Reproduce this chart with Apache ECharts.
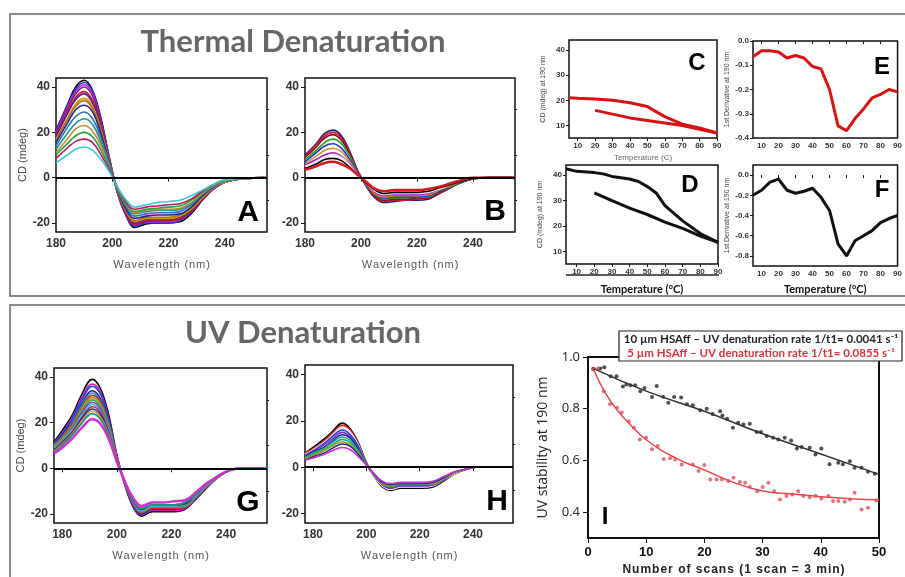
<!DOCTYPE html>
<html>
<head>
<meta charset="utf-8">
<script src="https://cdn.jsdelivr.net/npm/echarts@6/dist/echarts.min.js"></script>
<style>
  html, body { margin: 0; padding: 0; background: #fff; }
  #chart { width: 905px; height: 577px; }
</style>
</head>
<body>
<div id="chart"></div>
<script>
// wavelength grids (nm)
const wlAB = [180, 184, 187, 190, 193, 196, 199, 202, 205, 208, 212, 216, 220, 224, 228, 232, 236, 240, 246, 255]
const wlGH = [177, 180, 184, 187, 191, 194, 197, 200, 203, 206, 209, 213, 217, 221, 225, 229, 233, 237, 241, 246, 255]

// A: thermal spectra, 15 scans
const specA = [
  [21, 32, 40, 43, 38.5, 26, 8.5, -7.5, -17, -22, -20.5, -20, -20, -19.5, -16, -10, -5, -2, -0.5, 0],
  [20.5, 31.5, 39, 42, 38, 25, 8.5, -7, -17, -21.5, -20, -20, -20, -19, -15.5, -9.5, -5, -2, -0.5, 0],
  [20, 31, 38, 41, 37, 24.5, 8, -7, -16.5, -21, -19.5, -19.5, -19.5, -18.5, -15, -9.5, -5, -2, -0.5, 0],
  [19.5, 30, 37, 40, 36, 24, 8, -7, -16.5, -21, -19.5, -19, -19, -18.5, -15, -9.5, -5, -2, -0.5, 0],
  [18.5, 28.5, 35.5, 38, 34, 23, 7.5, -7, -16, -20.5, -19, -19, -19, -18, -15, -9, -4.5, -2, -0.5, 0],
  [18, 28, 34.5, 37, 33, 22, 7.5, -6.5, -15.5, -20, -18.5, -18.5, -18.5, -17.5, -14.5, -9, -4.5, -2, -0.5, 0],
  [17, 26, 32.5, 35, 31.5, 21, 7, -6.5, -15, -19.5, -18, -18, -18, -17, -14, -9, -4.5, -2, -0.5, 0],
  [16.5, 25.5, 31.5, 34, 30.5, 20.5, 7, -6.5, -15, -19, -17.5, -17.5, -17.5, -16.5, -13.5, -8.5, -4.5, -1.5, -0.5, 0],
  [15.5, 24, 30, 32, 29, 19, 6.5, -6, -14, -18, -17, -16.5, -16.5, -16, -13, -8, -4, -1.5, -0.5, 0],
  [14, 22, 27, 29, 26, 17.5, 6, -5.5, -13, -17, -16, -15.5, -15.5, -15, -12, -7.5, -4, -1.5, -0.5, 0],
  [12.5, 19.5, 24, 26, 23.5, 15.5, 5, -5.5, -12.5, -16, -15, -14.5, -14.5, -14, -11.5, -7, -3.5, -1.5, -0.5, 0],
  [11, 17, 21.5, 23, 20.5, 14, 4.5, -5, -12, -15.5, -14.5, -14, -14, -13.5, -11, -7, -3.5, -1.5, -0.5, 0],
  [10, 15, 18.5, 20, 18, 12, 4, -5, -11.5, -15, -14, -13.5, -13, -12.5, -10, -6.5, -3.5, -1.5, -0.5, 0],
  [8.5, 13, 16, 17, 15.5, 10, 3.5, -4.5, -11, -14, -13, -12.5, -12, -11.5, -9.5, -6, -3, -1, -0.5, 0],
  [6.5, 10, 12.5, 13.5, 12, 8, 2.5, -4.5, -10, -13, -12, -11, -10.5, -10, -8, -5.5, -3, -1, -0.5, 0]
]
const colorsA = ['#000000', '#1f3fd0', '#d020c0', '#7a1fa0', '#d01818', '#5a1a8a', '#c8a000', '#c06820',
  '#1a2a80', '#3070b0', '#20909a', '#c09030', '#30a040', '#b0206a', '#40c8d8']

// B: after heating, 10 scans
const specB = [
  [10, 15, 19.5, 21, 18.5, 11.5, 2.5, -4, -9, -11, -10.5, -10, -10, -9.5, -7, -4.5, -2, -0.5, 0, 0],
  [9.5, 14.5, 18.5, 20, 17.5, 11, 2.5, -3.5, -8.5, -10.5, -10, -10, -9.5, -9, -7, -4, -2, -0.5, 0, 0],
  [9, 13.5, 17.5, 19, 16.5, 10.5, 2.5, -3.5, -8, -10, -9.5, -9.5, -9, -9, -6.5, -4, -2, -0.5, 0, 0],
  [8, 12, 15.5, 17, 15, 9.5, 2, -3.5, -7.5, -9.5, -9, -9, -8.5, -8.5, -6, -4, -2, -0.5, 0, 0],
  [7, 11, 14, 15, 13, 8, 2, -3, -7, -9, -8.5, -8.5, -8.5, -8, -6, -3.5, -2, -0.5, 0, 0],
  [6, 9.5, 12, 13, 11.5, 7, 1.5, -3, -7, -8.5, -8, -8, -8, -7.5, -5.5, -3.5, -1.5, -0.5, 0, 0],
  [5.5, 8, 10, 11, 9.5, 6, 1.5, -3, -6.5, -8, -7.5, -7.5, -7.5, -7, -5, -3, -1.5, -0.5, 0, 0],
  [5, 7, 9, 10, 9, 5.5, 1, -2.5, -6, -7.5, -7, -7, -7, -6.5, -5, -3, -1.5, -0.5, 0, 0],
  [4, 6, 8, 8.5, 7.5, 4.5, 1, -2.5, -5.5, -7, -6.5, -6.5, -6.5, -6, -4.5, -3, -1.5, -0.5, 0, 0],
  [3.5, 5, 6.5, 7, 6, 4, 1, -2, -5, -6, -5.5, -5.5, -5.5, -5, -4, -2.5, -1, 0, 0, 0]
]
const colorsB = ['#1a1a80', '#c8183c', '#8a1010', '#2a9a2a', '#1a3ac0', '#e08a30', '#a020c0', '#ece4f4', '#000000', '#d81818']

// G: UV exposure spectra, 10 uM
const specG = [
  [11.5, 16.5, 24, 32, 39, 35, 23.5, 6, -7.5, -17, -21, -19, -19, -19, -18, -13.5, -8.5, -4, -1, 0, 0],
  [11, 15.5, 23, 30.5, 37, 33.5, 22, 5.5, -7, -16.5, -20.5, -18.5, -18.5, -18.5, -17.5, -13.5, -8, -4, -1, 0, 0],
  [11, 15, 22.5, 29.5, 36, 32.5, 21.5, 5.5, -7, -16, -20, -18, -18, -18, -17, -13, -8, -4, -1, 0, 0],
  [10, 14.5, 21, 28, 34, 30.5, 20.5, 5, -7, -16, -20, -18, -18, -18, -17, -13, -8, -4, -1, 0, 0],
  [10, 14, 20.5, 27, 33, 29.5, 20, 5, -7, -15.5, -19.5, -17.5, -17.5, -17.5, -17, -12.5, -8, -4, -1, 0, 0],
  [9.5, 13.5, 20, 26, 32, 29, 19, 5, -7, -15.5, -19.5, -17.5, -17.5, -17.5, -17, -12.5, -8, -4, -1, 0, 0],
  [9.5, 13, 19, 25.5, 31, 28, 18.5, 4.5, -6.5, -15, -19, -17, -17, -17, -16.5, -12.5, -7.5, -4, -1, 0, 0],
  [9, 12.5, 18.5, 24.5, 30, 27, 18, 4.5, -6.5, -15, -19, -17, -17, -17, -16.5, -12.5, -7.5, -4, -1, 0, 0],
  [8.5, 12, 18, 24, 29, 26, 17.5, 4.5, -6.5, -15, -18.5, -16.5, -16.5, -16.5, -16, -12, -7.5, -3.5, -1, 0, 0],
  [8.5, 12, 17.5, 23, 28, 25, 17, 4, -6.5, -15, -18.5, -16.5, -16.5, -16.5, -16, -12, -7.5, -3.5, -1, 0, 0],
  [8, 11.5, 16.5, 22, 27, 24.5, 16, 4, -6.5, -14.5, -18, -16, -16, -16, -15.5, -11.5, -7, -3.5, -1, 0, 0],
  [8, 11, 16, 21.5, 26, 23.5, 15.5, 4, -6.5, -14.5, -18, -16, -16, -16, -15.5, -11.5, -7, -3.5, -1, 0, 0],
  [7.5, 10.5, 15.5, 20.5, 25, 22.5, 15, 4, -6, -14, -17.5, -16, -16, -16, -15, -11.5, -7, -3.5, -1, 0, 0],
  [7, 10, 15, 19.5, 24, 21.5, 14.5, 3.5, -6, -14, -17.5, -16, -16, -16, -15, -11.5, -7, -3.5, -1, 0, 0],
  [6.5, 9, 13.5, 17.5, 21.5, 19.5, 13, 3, -6, -13, -16.5, -15, -15, -14.5, -14, -10.5, -6.5, -3.5, -1, 0, 0]
]
const colorsG = ['#000000', '#d020c0', '#2040e0', '#1a2a90', '#20a0a0', '#e02040', '#a0a020', '#30b050',
  '#8030c0', '#40c0d0', '#c02060', '#203080', '#e09030', '#109080', '#d030d0']

// H: UV exposure spectra, 5 uM
const specH = [
  [6, 8.5, 12, 15, 19, 16.5, 10.5, 2, -4, -8.5, -10, -9, -9, -9, -8.5, -6, -3, -1, 0, 0, 0],
  [6, 8, 11, 14.5, 18, 16, 10, 2, -4, -8, -9.5, -8.5, -8.5, -8.5, -8, -5.5, -3, -1, 0, 0, 0],
  [5.5, 7.5, 10.5, 13.5, 17, 15, 9.5, 1.5, -4, -8, -9.5, -8.5, -8.5, -8.5, -8, -5.5, -3, -1, 0, 0, 0],
  [5, 7, 10, 13, 16, 14, 9, 1.5, -3.5, -7.5, -9, -8, -8, -8, -7.5, -5.5, -2.5, -1, 0, 0, 0],
  [5, 7, 9.5, 12, 15, 13, 8, 1.5, -3.5, -7.5, -9, -8, -8, -8, -7.5, -5.5, -2.5, -1, 0, 0, 0],
  [4.5, 6.5, 8.5, 11, 14, 12.5, 7.5, 1.5, -3.5, -7, -8.5, -7.5, -7.5, -7.5, -7, -5, -2.5, -1, 0, 0, 0],
  [4, 6, 8, 10.5, 13, 11.5, 7, 1.5, -3.5, -7, -8.5, -7.5, -7.5, -7.5, -7, -5, -2.5, -1, 0, 0, 0],
  [4, 5.5, 7.5, 9.5, 12, 10.5, 6.5, 1, -3, -7, -8, -7, -7, -7, -7, -5, -2.5, -1, 0, 0, 0],
  [3.5, 5, 7, 9, 11, 9.5, 6, 1, -3, -7, -8, -7, -7, -7, -7, -5, -2.5, -1, 0, 0, 0],
  [3, 4.5, 6, 8, 10, 9, 5.5, 1, -3, -6.5, -7.5, -7, -7, -7, -6.5, -4.5, -2, -1, 0, 0, 0],
  [3, 4, 5.5, 7, 8.5, 7.5, 4.5, 1, -3, -6, -7, -6.5, -6.5, -6.5, -6, -4, -2, -1, 0, 0, 0]
]
const colorsH = ['#000000', '#d02020', '#f0e8f8', '#2040d0', '#8030c0', '#1a2a90', '#20a0a0', '#30b050', '#a0a020', '#203080', '#d030d0']

// C / D: signal at 190 nm vs temperature (heating, then cooling)
const tempHeatC = [5, 10, 20, 30, 40, 50, 55, 60, 70, 80, 90]
const cdHeatC = [21, 20.8, 20.5, 20, 19, 17.5, 15.5, 13.5, 10.5, 9, 7]
const tempCoolC = [20, 30, 40, 50, 60, 70, 80, 90]
const cdCoolC = [16, 14.5, 13, 12, 11, 10, 8.5, 7]

const tempHeatD = [4, 10, 20, 25, 30, 40, 45, 50, 55, 60, 70, 80, 90]
const cdHeatD = [42.5, 41.5, 41, 40.5, 39.5, 38.5, 37.5, 35.5, 33, 28, 22, 17, 13.5]
const tempCoolD = [20, 30, 40, 50, 60, 70, 80, 90]
const cdCoolD = [33, 30, 27, 24.5, 21.5, 19, 16, 13.5]

// E / F: first derivative
const tempDeriv = [5, 10, 15, 20, 25, 30, 35, 40, 45, 50, 55, 60, 65, 70, 75, 80, 85, 90]
const derivE = [-0.065, -0.04, -0.04, -0.045, -0.07, -0.06, -0.07, -0.105, -0.115, -0.2, -0.35, -0.37, -0.32, -0.28, -0.235, -0.22, -0.2, -0.21]
const derivF = [-0.2, -0.15, -0.07, -0.04, -0.15, -0.18, -0.16, -0.13, -0.22, -0.35, -0.68, -0.8, -0.65, -0.6, -0.55, -0.47, -0.43, -0.4]

// I: UV stability vs number of scans
const scansBlack = [0.9, 2.1, 2.8, 3.9, 4.9, 6, 6.6, 7.3, 8.1, 9, 9.7, 11, 11.8, 12.9, 13.8, 14.8, 16, 17, 18, 19.3,
  20.4, 21.4, 22.7, 23.1, 23.9, 24.9, 25.8, 26.7, 27.8, 29, 29.7, 30.7, 31.8, 32.7, 33.8, 34.9, 35.9, 36.7, 38.1,
  39.1, 40.1, 41.5, 43, 43.8, 45, 45.8, 47, 48.1, 49.3]
const stabBlack = [0.955, 0.956, 0.96, 0.926, 0.926, 0.886, 0.894, 0.891, 0.891, 0.868, 0.88, 0.845, 0.888, 0.846,
  0.823, 0.845, 0.843, 0.817, 0.813, 0.794, 0.8, 0.78, 0.79, 0.774, 0.761, 0.726, 0.746, 0.739, 0.742, 0.71, 0.71,
  0.694, 0.688, 0.681, 0.688, 0.677, 0.646, 0.652, 0.649, 0.623, 0.646, 0.585, 0.591, 0.585, 0.597, 0.572, 0.572,
  0.556, 0.548]
const scansRed = [0.9, 1.7, 2.7, 3.8, 5, 5.8, 7, 7.9, 8.9, 10, 11, 12, 13, 14.1, 15, 16.1, 18, 19, 20, 21, 22.1, 23,
  24.1, 25, 26.1, 27, 27.8, 29.1, 30, 31, 32, 33, 34.1, 35.1, 36.1, 37, 38.1, 39.1, 40.1, 41.3, 42.1, 43, 44.1, 45,
  45.8, 47, 48.1, 49.5]
const stabRed = [0.952, 0.956, 0.868, 0.817, 0.804, 0.785, 0.752, 0.726, 0.681, 0.688, 0.643, 0.656, 0.606, 0.608,
  0.604, 0.584, 0.584, 0.559, 0.582, 0.526, 0.526, 0.526, 0.52, 0.533, 0.517, 0.514, 0.497, 0.481, 0.497, 0.514,
  0.481, 0.449, 0.462, 0.468, 0.481, 0.462, 0.458, 0.462, 0.453, 0.462, 0.443, 0.443, 0.44, 0.449, 0.475, 0.41,
  0.417, 0.445]
const fitScansBlack = [1, 10, 20, 30, 40, 50]
const fitBlack = [0.955, 0.868, 0.79, 0.703, 0.625, 0.546]
const fitScansRed = [1, 3, 5, 7, 10, 15, 20, 25, 30, 35, 40, 45, 50]
const fitRed = [0.95, 0.86, 0.795, 0.745, 0.68, 0.61, 0.563, 0.515, 0.482, 0.47, 0.46, 0.452, 0.448]

const cdTicks = [-20, 0, 20, 40]
const cdMinor = [-10, 10, 30]
const wlTicks = [180, 200, 220, 240]
const tempTicks = [10, 20, 30, 40, 50, 60, 70, 80, 90]

const chart = echarts.init(document.getElementById('chart'))

const zip = (xs, ys) => xs.map((x, i) => [x, ys[i]])
// loosely tracked text, like the original axis titles
const spaced = s => s.split('').join('\u200a')

const grids = []
const xAxes = []
const yAxes = []
const series = []

function addGrid(box) {
  grids.push(Object.assign({
    show: true, borderColor: '#111', borderWidth: 1.5, backgroundColor: '#fff'
  }, box))
  return grids.length - 1
}

function smallAxisLabel(size, bold) {
  return { fontSize: size, fontWeight: bold ? 'bold' : 'normal', color: '#333', fontFamily: 'Liberation Sans' }
}

// spectrum panel (A, B, G, H)
function specPanel(box, xMin, spec, colors, wl, thickLast) {
  const g = addGrid(box)
  xAxes.push({
    gridIndex: g, type: 'value', min: xMin, max: 255,
    axisLine: { show: false }, splitLine: { show: false },
    axisTick: { length: 4, lineStyle: { color: '#111' }, customValues: wlTicks },
    axisLabel: Object.assign(smallAxisLabel(12, true), { customValues: wlTicks, margin: 6 }),
    name: spaced('Wavelength (nm)'), nameLocation: 'middle', nameGap: 27,
    nameTextStyle: { fontSize: 11, color: '#555', fontFamily: 'Liberation Sans' }
  })
  const xi = xAxes.length - 1
  yAxes.push({
    gridIndex: g, type: 'value', min: -24, max: 44,
    axisLine: { show: false }, splitLine: { show: false },
    axisTick: { length: 4, lineStyle: { color: '#111' }, customValues: cdTicks },
    axisLabel: Object.assign(smallAxisLabel(12, true), { customValues: cdTicks, margin: 6 }),
    name: box.left < 100 ? 'CD (mdeg)' : '', nameLocation: 'middle', nameGap: 26,
    nameTextStyle: { fontSize: 11, color: '#444', fontFamily: 'Liberation Sans' }
  })
  const yi = yAxes.length - 1
  // minor ticks
  yAxes.push({
    gridIndex: g, type: 'value', min: -24, max: 44,
    axisLine: { show: false }, splitLine: { show: false }, axisLabel: { show: false },
    axisTick: { length: 2, lineStyle: { color: '#111' }, customValues: cdMinor }
  })
  spec.forEach((vals, i) => {
    const s = {
      type: 'line', xAxisIndex: xi, yAxisIndex: yi, smooth: 0.4, symbol: 'none',
      data: zip(wl, vals),
      lineStyle: { color: colors[i], width: (thickLast && i === spec.length - 1) ? 2.5 : 1.6 },
      silent: true, animation: false
    }
    if (i === 0) {
      s.markLine = {
        symbol: 'none', silent: true, label: { show: false }, animation: false,
        lineStyle: { color: '#000', width: 2, type: 'solid' },
        data: [{ yAxis: 0 }]
      }
    }
    series.push(s)
  })
}

// temperature panel (C, D, E, F)
function tempPanel(box, xMin, yMin, yMax, yTicks, yName, xName, xNameStyle, lines, color, fmt) {
  const g = addGrid(box)
  xAxes.push({
    gridIndex: g, type: 'value', min: xMin, max: 90,
    axisLine: { show: false }, splitLine: { show: false },
    axisTick: { length: 3, lineStyle: { color: '#111' }, customValues: tempTicks },
    axisLabel: Object.assign(smallAxisLabel(8, true), { customValues: tempTicks, margin: 4 }),
    name: xName, nameLocation: 'middle', nameGap: xNameStyle.gap,
    nameTextStyle: xNameStyle.style
  })
  const xi = xAxes.length - 1
  yAxes.push({
    gridIndex: g, type: 'value', min: yMin, max: yMax,
    axisLine: { show: false }, splitLine: { show: false },
    axisTick: { length: 3, lineStyle: { color: '#111' }, customValues: yTicks },
    axisLabel: Object.assign(smallAxisLabel(8, true), { customValues: yTicks, margin: 4, formatter: fmt }),
    name: yName, nameLocation: 'middle', nameGap: 22,
    nameTextStyle: { fontSize: 7, color: '#444', fontFamily: 'Liberation Sans' }
  })
  const yi = yAxes.length - 1
  lines.forEach(d => {
    series.push({
      type: 'line', xAxisIndex: xi, yAxisIndex: yi, symbol: 'none', data: d,
      lineStyle: { color: color, width: 3 }, silent: true, animation: false
    })
  })
}

specPanel({ left: 56, top: 78, width: 211, height: 154 }, 180, specA, colorsA, wlAB, false)
specPanel({ left: 305, top: 78, width: 210, height: 154 }, 180, specB, colorsB, wlAB, true)
specPanel({ left: 54, top: 368, width: 213, height: 155 }, 177, specG, colorsG, wlGH, true)
specPanel({ left: 305, top: 365, width: 208, height: 158 }, 177, specH, colorsH, wlGH, false)

const fmt1 = v => v.toFixed(1)
const fmt0 = v => String(v)
tempPanel({ left: 569, top: 40, width: 148, height: 98 }, 5, 5, 44, [10, 20, 30, 40], 'CD (mdeg) at 190 nm',
  'Temperature (C)', { gap: 16, style: { fontSize: 8, color: '#666', fontFamily: 'Liberation Sans' } },
  [zip(tempHeatC, cdHeatC), zip(tempCoolC, cdCoolC)], '#d41414', fmt0)
tempPanel({ left: 753, top: 41, width: 145, height: 97 }, 5, -0.4, 0, [-0.4, -0.3, -0.2, -0.1, 0], '1st Derivative at 190 nm',
  '', { gap: 16, style: {} }, [zip(tempDeriv, derivE)], '#d41414', fmt1)
tempPanel({ left: 566, top: 165, width: 152, height: 99 }, 4, 5, 44, [10, 20, 30, 40], 'CD (mdeg) at 190 nm',
  'Temperature (°C)', { gap: 20, style: { fontSize: 11, color: '#111', fontWeight: 'bold', fontFamily: 'Lato' } },
  [zip(tempHeatD, cdHeatD), zip(tempCoolD, cdCoolD)], '#111', fmt0)
tempPanel({ left: 753, top: 165, width: 146, height: 101 }, 5, -0.9, 0.1, [-0.8, -0.6, -0.4, -0.2, 0], '1st Derivative at 190 nm',
  'Temperature (°C)', { gap: 18, style: { fontSize: 11, color: '#111', fontWeight: 'bold', fontFamily: 'Lato' } },
  [zip(tempDeriv, derivF)], '#111', fmt1)

// I panel
const gI = addGrid({ left: 588, top: 357, width: 291, height: 182, borderWidth: 2 })
xAxes.push({
  gridIndex: gI, type: 'value', min: 0, max: 50, interval: 10,
  axisLine: { show: false }, splitLine: { show: false },
  axisTick: { length: 5, lineStyle: { color: '#111' } },
  axisLabel: { fontSize: 13, fontWeight: 'bold', color: '#111', fontFamily: 'Liberation Sans', margin: 8 },
  name: spaced('Number of scans (1 scan = 3 min)'), nameLocation: 'middle', nameGap: 26,
  nameTextStyle: { fontSize: 12, fontWeight: 'bold', color: '#222', fontFamily: 'Liberation Sans' }
})
const xI = xAxes.length - 1
yAxes.push({
  gridIndex: gI, type: 'value', min: 0.3, max: 1.0,
  axisLine: { show: false }, splitLine: { show: false },
  axisTick: { length: 5, lineStyle: { color: '#111' }, customValues: [0.4, 0.6, 0.8, 1.0] },
  axisLabel: { fontSize: 13, color: '#222', fontFamily: 'Open Sans', margin: 8, customValues: [0.4, 0.6, 0.8, 1.0], formatter: fmt1 },
  name: 'UV stability at 190 nm', nameLocation: 'middle', nameGap: 38,
  nameTextStyle: { fontSize: 14, color: '#222', fontFamily: 'Open Sans' }
})
const yI = yAxes.length - 1
series.push(
  { type: 'scatter', xAxisIndex: xI, yAxisIndex: yI, symbolSize: 4, data: zip(scansBlack, stabBlack),
    itemStyle: { color: '#222' }, silent: true, animation: false },
  { type: 'scatter', xAxisIndex: xI, yAxisIndex: yI, symbolSize: 4, data: zip(scansRed, stabRed),
    itemStyle: { color: '#e0505a' }, silent: true, animation: false },
  { type: 'line', xAxisIndex: xI, yAxisIndex: yI, smooth: true, symbol: 'none', data: zip(fitScansBlack, fitBlack),
    lineStyle: { color: '#333', width: 1.5 }, silent: true, animation: false },
  { type: 'line', xAxisIndex: xI, yAxisIndex: yI, smooth: true, symbol: 'none', data: zip(fitScansRed, fitRed),
    lineStyle: { color: '#e8474f', width: 1.5 }, silent: true, animation: false }
)

const letter = (t, x, y, size) => ({
  type: 'text', x: x, y: y, z: 100,
  style: { text: t, font: 'bold ' + size + 'px "Liberation Sans"', fill: '#000', align: 'center', verticalAlign: 'middle' }
})

chart.setOption({
  animation: false,
  backgroundColor: '#fff',
  grid: grids,
  xAxis: xAxes,
  yAxis: yAxes,
  series: series,
  graphic: [
    // section frames
    { type: 'rect', shape: { x: 10, y: 14, width: 900, height: 282 }, style: { fill: 'none', stroke: '#666', lineWidth: 1.5 }, z: -10 },
    { type: 'rect', shape: { x: 10, y: 305, width: 900, height: 290 }, style: { fill: 'none', stroke: '#666', lineWidth: 1.5 }, z: -10 },
    { type: 'text', x: 293, y: 42, z: 100, style: { text: 'Thermal Denaturation', font: 'bold 31px Lato', fill: '#666', align: 'center', verticalAlign: 'middle' } },
    { type: 'text', x: 303, y: 333, z: 100, style: { text: 'UV Denaturation', font: 'bold 31px Lato', fill: '#666', align: 'center', verticalAlign: 'middle' } },
    // rule under D tick labels
    { type: 'line', shape: { x1: 566, y1: 275, x2: 719, y2: 275 }, style: { stroke: '#222', lineWidth: 1.5 }, z: 100 },
    letter('A', 248, 213, 30),
    letter('B', 495, 212, 30),
    letter('C', 697, 63, 24),
    letter('D', 690, 185, 24),
    letter('E', 882, 67, 24),
    letter('F', 882, 190, 24),
    letter('G', 248, 503, 30),
    letter('H', 497, 502, 30),
    { type: 'text', x: 605, y: 517, z: 100, style: { text: 'I', font: 'bold 24px "Liberation Sans"', fill: '#000', align: 'center', verticalAlign: 'middle' } },
    // legend box for I
    { type: 'rect', shape: { x: 619, y: 331, width: 283, height: 30 }, style: { fill: '#fff', stroke: '#222', lineWidth: 1.2 }, z: 100 },
    { type: 'text', x: 761, y: 339, z: 101, style: { text: '10 µm HSAff – UV denaturation rate 1/t1= 0.0041 s⁻¹', font: 'bold 11.5px Lato', fill: '#222', align: 'center', verticalAlign: 'middle' } },
    { type: 'text', x: 761, y: 353, z: 101, style: { text: '5 µm HSAff – UV denaturation rate 1/t1= 0.0855 s⁻¹', font: 'bold 11.5px Lato', fill: '#d8343c', align: 'center', verticalAlign: 'middle' } }
  ]
})
</script>
</body>
</html>
